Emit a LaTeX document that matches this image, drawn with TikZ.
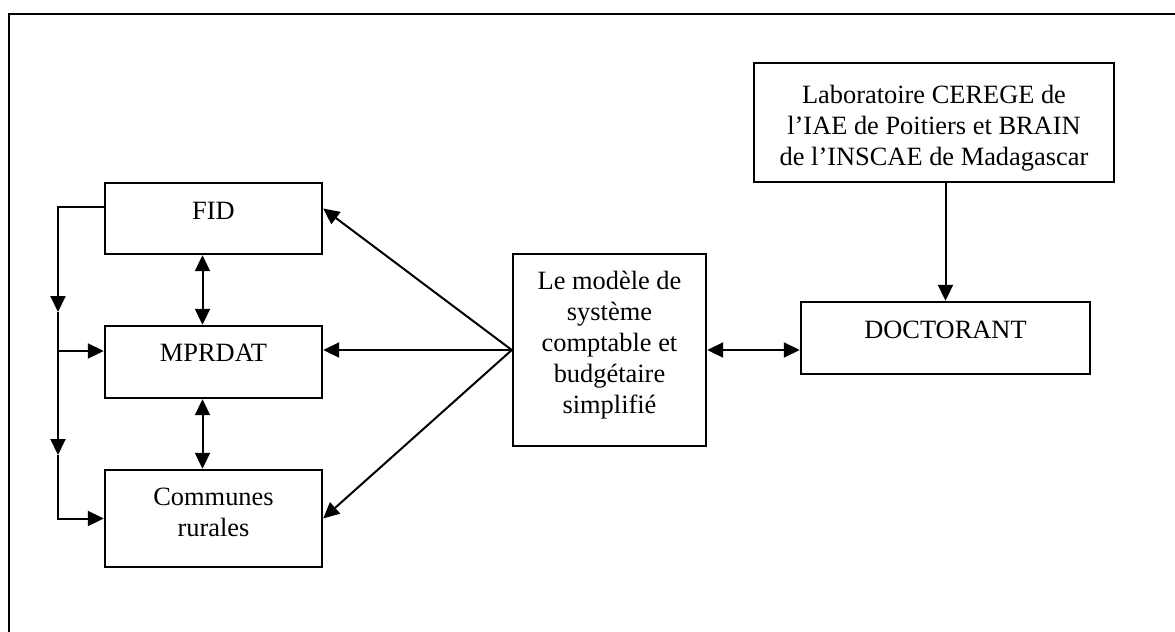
\documentclass[tikz,border=0pt]{standalone}
\usepackage{fontspec}
\setmainfont{Liberation Serif}
\usetikzlibrary{calc,arrows.meta,positioning}

\tikzset{
  bloc/.style={draw,line width=1.2pt,fill=white,align=center,inner sep=0pt,
    font=\fontsize{13.2}{15.5}\selectfont},
  flow/.style={line width=1pt,-{Triangle[length=8pt,width=7.5pt]}},
  flows/.style={line width=1pt,{Triangle[length=8pt,width=7.5pt]}-{Triangle[length=8pt,width=7.5pt]}}
}

\begin{document}
\begin{tikzpicture}[x=.5pt,y=-.5pt]
\useasboundingbox (0,0) rectangle (1175,632);
\draw[line width=1.2pt] (9,632) |- (1175,14);
% left column
\node[bloc,minimum width=108.5pt,minimum height=35.5pt,text depth=8pt] (fid) at (213.5,218.5) {FID};
\node[bloc,minimum width=108.5pt,minimum height=36pt,text depth=9pt] (mprdat) at (213.5,362) {MPRDAT};
\node[bloc,minimum width=108.5pt,minimum height=48.5pt,text depth=6pt] (communes) at (213.5,518.5) {Communes\\rurales};
% centre and right
\node[bloc,minimum width=96.5pt,minimum height=96pt,text depth=8pt] (modele) at (609.5,350) {Le modèle de\\système\\comptable et\\budgétaire\\simplifié};
\node[bloc,minimum width=144.5pt,minimum height=36pt,text depth=8pt] (doct) at (945.5,338) {DOCTORANT};
\node[bloc,minimum width=180pt,minimum height=59.5pt,text height=46pt] (labo) at (934,122.5) {Laboratoire CEREGE de\\l’IAE de Poitiers et BRAIN\\de l’INSCAE de Madagascar};
% connectors
\draw[flow] (modele.west) -- ($(fid.east)+(0,-10)$);
\draw[flow] (modele.west) -- (modele.west -| mprdat.east);
\draw[flow] (modele.west) -- (communes.east);
\draw[flows] (modele.east) -- (modele.east -| doct.west);
\draw[flow] (labo.south -| doct.north) -- (doct.north);
\draw[flows] ($(fid.south)+(-11,0)$) -- ($(mprdat.north)+(-11,0)$);
\draw[flows] ($(mprdat.south)+(-11,0)$) -- ($(communes.north)+(-11,0)$);
% feedback line on the left
\coordinate (k1) at (58,312);
\coordinate (k0) at (58,351);
\coordinate (k2) at (58,455);
\draw[flow] ($(fid.west)+(0,-12)$) -| (k1);
\draw[flow] (k1) -- (k2);
\draw[flow] (k2) |- (communes.west);
\draw[flow] (k0) -- (k0 -| mprdat.west);
\end{tikzpicture}
\end{document}
